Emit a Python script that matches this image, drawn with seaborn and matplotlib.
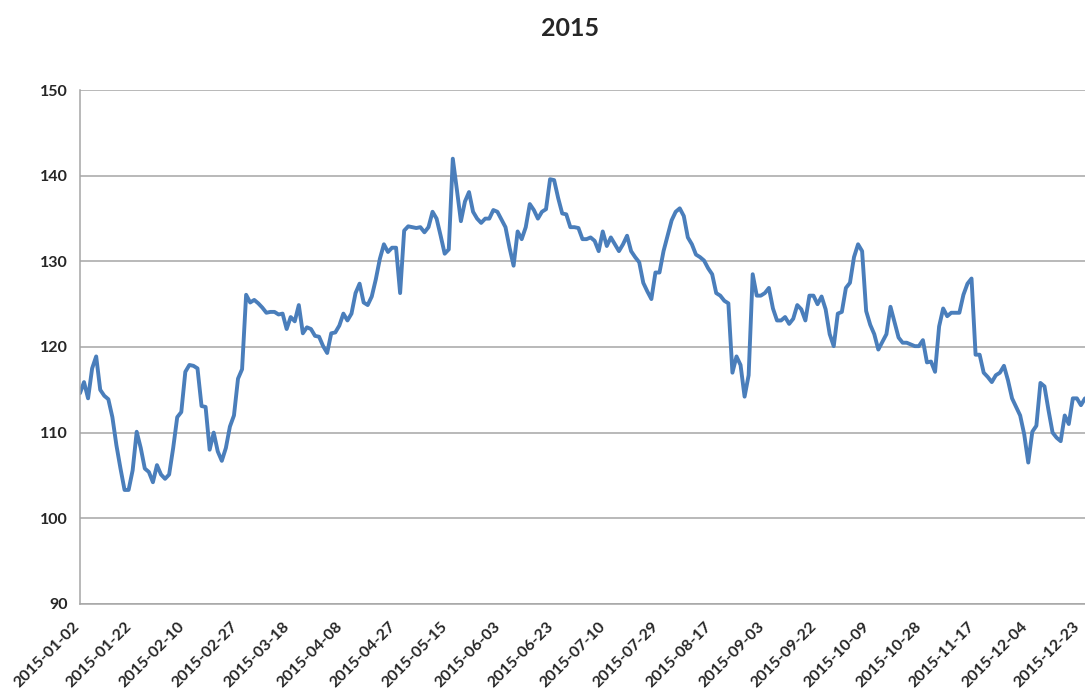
import numpy as np
import pandas as pd
import matplotlib
matplotlib.use("Agg")
import matplotlib.pyplot as plt
import matplotlib.transforms as mtransforms
import seaborn as sns

# ---- Data (one value per trading day) ----
values = [
    114.6, 115.9, 114.0, 117.5, 118.9, 115.0, 114.3, 113.9, 111.8, 108.5,
    105.8, 103.3, 103.3, 105.6, 110.1, 108.2, 105.8, 105.4, 104.2, 106.2,
    105.1, 104.6, 105.1, 108.2, 111.8, 112.4, 117.1, 117.9, 117.8, 117.5,
    113.1, 113.0, 108.0, 110.0, 107.8, 106.7, 108.2, 110.7, 112.0, 116.3,
    117.4, 126.1, 125.2, 125.5, 125.1, 124.6, 124.0, 124.1, 124.1, 123.8,
    123.9, 122.1, 123.5, 123.0, 124.9, 121.6, 122.3, 122.1, 121.3, 121.2,
    120.1, 119.3, 121.6, 121.7, 122.5, 123.9, 123.1, 123.9, 126.3, 127.4,
    125.2, 124.9, 125.9, 127.9, 130.3, 132.0, 131.1, 131.6, 131.6, 126.3,
    133.6, 134.1, 134.0, 133.9, 134.0, 133.4, 134.0, 135.8, 135.0, 133.0,
    130.9, 131.4, 142.0, 138.4, 134.7, 137.0, 138.1, 135.8, 135.0, 134.5,
    135.0, 135.0, 136.0, 135.8, 134.9, 134.0, 131.6, 129.5, 133.5, 132.6,
    134.0, 136.7, 136.0, 135.0, 135.8, 136.1, 139.6, 139.5, 137.4, 135.6,
    135.5, 134.0, 134.0, 133.9, 132.6, 132.6, 132.8, 132.4, 131.2, 133.5,
    131.8, 132.8, 132.0, 131.2, 132.0, 133.0, 131.2, 130.5, 129.9, 127.5,
    126.5, 125.6, 128.7, 128.7, 131.2, 133.0, 134.8, 135.8, 136.2, 135.3,
    132.8, 132.0, 130.8, 130.5, 130.1, 129.2, 128.5, 126.3, 126.0, 125.4,
    125.1, 117.0, 118.9, 117.9, 114.2, 116.7, 128.5, 126.0, 126.0, 126.3,
    126.9, 124.5, 123.1, 123.1, 123.5, 122.7, 123.3, 124.9, 124.4, 123.1,
    126.0, 126.0, 125.0, 125.9, 124.4, 121.5, 120.1, 123.9, 124.1, 126.9,
    127.5, 130.5, 132.0, 131.2, 124.2, 122.6, 121.5, 119.7, 120.6, 121.5,
    124.7, 122.9, 121.1, 120.5, 120.5, 120.3, 120.1, 120.1, 120.8, 118.2,
    118.3, 117.1, 122.4, 124.5, 123.6, 124.0, 124.0, 124.0, 126.1, 127.4,
    128.0, 119.1, 119.1, 117.0, 116.5, 115.9, 116.7, 117.0, 117.8, 116.1,
    114.0, 113.0, 112.0, 109.8, 106.5, 110.1, 110.8, 115.8, 115.4, 112.6,
    110.0, 109.4, 109.0, 112.0, 111.0, 114.0, 114.0, 113.2, 114.0,
]

tick_labels = [
    "2015-01-02", "2015-01-22", "2015-02-10", "2015-02-27", "2015-03-18",
    "2015-04-08", "2015-04-27", "2015-05-15", "2015-06-03", "2015-06-23",
    "2015-07-10", "2015-07-29", "2015-08-17", "2015-09-03", "2015-09-22",
    "2015-10-09", "2015-10-28", "2015-11-17", "2015-12-04", "2015-12-23",
]
label_step = 13
y_ticks = [90, 100, 110, 120, 130, 140, 150]

df = pd.DataFrame({"day": np.arange(len(values)), "value": values})

# ---- Style ----
sns.set_style("white")
plt.rcParams['font.family'] = ['Lato', 'DejaVu Sans']

fig = plt.figure(figsize=(10.85, 6.94), dpi=100)
ax = fig.add_axes([0.0737, 0.130, 0.9263, 0.740])

sns.lineplot(data=df, x="day", y="value", ax=ax, color="#4a7ebb", linewidth=2.8)

ax.set_xlim(0, len(values) - 1)
ax.set_ylim(90, 150)
ax.set_yticks(y_ticks)
ax.set_yticklabels([str(v) for v in y_ticks], fontsize=11.5, fontweight='bold')
ax.yaxis.grid(True, color="#a6a6a6", linewidth=1.1)
ax.set_axisbelow(True)

ax.set_xticks(np.arange(len(tick_labels)) * label_step)
ax.set_xticklabels(tick_labels, rotation=45, ha='right', rotation_mode='anchor',
                   fontsize=11.5, fontweight='bold')
ax.set_xticks(np.arange(0, len(values), 5), minor=True)
ax.tick_params(axis='x', which='major', length=0, pad=11)
ax.tick_params(axis='x', which='minor', length=4, width=1, color="#a6a6a6", direction='out')
ax.tick_params(axis='y', length=5, width=1, color="#a6a6a6", direction='out', pad=4)

# nudge the rotated date labels left so the last one stays inside the figure
shift = mtransforms.ScaledTranslation(-0.08, 0, fig.dpi_scale_trans)
for lbl in ax.get_xticklabels():
    lbl.set_transform(lbl.get_transform() + shift)

ax.set_xlabel('')
ax.set_ylabel('')
for side in ['top', 'right']:
    ax.spines[side].set_visible(False)
for side in ['left', 'bottom']:
    ax.spines[side].set_color("#a6a6a6")
    ax.spines[side].set_linewidth(1.1)

fig.suptitle('2015', x=0.525, y=0.975, fontsize=18, fontweight='bold')

plt.savefig('out.png', dpi=100)
